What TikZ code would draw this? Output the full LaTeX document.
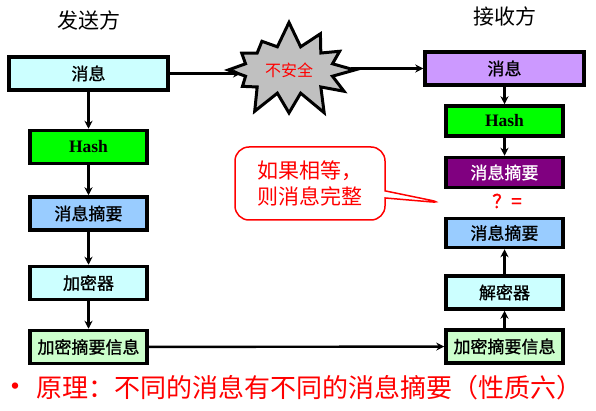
\documentclass[tikz,border=0pt]{standalone}
\usepackage{fontspec}
\setmainfont{Liberation Serif}
\newfontfamily\cjk{Noto Sans CJK SC}
\newfontfamily\cjkbold{Noto Sans CJK SC}[FakeBold=1.2]
\usetikzlibrary{shapes.symbols,shapes.callouts,arrows.meta}
\definecolor{msgcyan}{HTML}{CCFFFF}
\definecolor{hashgreen}{HTML}{00FF00}
\definecolor{digblue}{HTML}{99CCFF}
\definecolor{encgreen}{HTML}{CCFFCC}
\definecolor{recvlilac}{HTML}{CC99FF}
\definecolor{digpurple}{HTML}{800080}
\definecolor{stargray}{HTML}{C0C0C0}

\begin{document}
\begin{tikzpicture}[x=1pt,y=-1pt]
      \tikzstyle{every node}+=[inner sep=0pt]
      \tikzstyle{box}=[draw=black, line width=3.5pt, minimum width=117pt, minimum height=33pt, font=\cjkbold\fontsize{17}{17}\selectfont]
      \tikzstyle{title}=[font=\cjk\fontsize{21}{21}\selectfont]
      \tikzstyle{link}=[black, line width=2.4pt, -{Stealth[length=8pt,width=8pt]}]
      \useasboundingbox (0,0) rectangle (596,411);
      % sender side
      \node [title] (sendtitle) at (88.5,20) {发送方};
      \node [box, fill=msgcyan, minimum width=159pt] (smsg) at (88.5,73.5) {消息};
      \node [box, fill=hashgreen, font=\bfseries\fontsize{17.5}{17.5}\selectfont] (shash) at (88.5,147) {Hash};
      \node [box, fill=digblue] (sdig) at (88.5,213.5) {消息摘要};
      \node [box, fill=msgcyan] (senc) at (88.5,283) {加密器};
      \node [box, fill=encgreen] (sout) at (88.5,347) {加密摘要信息};
      % receiver side
      \node [title] (recvtitle) at (504.5,16) {接收方};
      \node [box, fill=recvlilac, minimum width=159pt] (rmsg) at (504.5,68.5) {消息};
      \node [box, fill=hashgreen, minimum height=30pt, font=\bfseries\fontsize{17.5}{17.5}\selectfont] (rhash) at (504.5,121) {Hash};
      \node [box, fill=digpurple, text=white, minimum height=30pt] (rdig) at (504.5,172.5) {消息摘要};
      \node [text=red, font=\cjkbold\fontsize{19}{19}\selectfont] (cmp) at (507,201) {？=};
      \node [box, fill=digblue, minimum height=29pt] (rcmp) at (504.5,233) {消息摘要};
      \node [box, fill=msgcyan] (rdec) at (504.5,292.5) {解密器};
      \node [box, fill=encgreen] (rin) at (504.5,346.5) {加密摘要信息};
      % channel
      \node [starburst, starburst points=12, starburst point height=26pt, random starburst=7,
             draw=black, fill=stargray, line width=3pt, minimum width=142pt, minimum height=100pt,
             text=red, font=\cjk\fontsize{16}{16}\selectfont] (net) at (289,70) {不安全};
      \coordinate (tip) at (444,203);
      \node [rectangle callout, callout absolute pointer={(tip)}, rounded corners=14pt, draw=red, line width=1.5pt,
             minimum width=150pt, minimum height=73pt, align=left, text=red,
             font=\cjk\fontsize{21}{26}\selectfont] (note) at (310,183.5) {如果相等，\\则消息完整};
      \node [anchor=west, text=red, font=\cjk\fontsize{26}{26}\selectfont] (rule) at (0,388) {\fontsize{30}{30}\selectfont•\hspace{6pt}\fontsize{26}{26}\selectfont 原理：不同的消息有不同的消息摘要（性质六）};
      % arrows
      \draw [link] (smsg) -- (shash);
      \draw [link] (shash) -- (sdig);
      \draw [link] (sdig) -- (senc);
      \draw [link] (senc) -- (sout);
      \draw [link] (smsg.east) -- (241,73.5);
      \draw [link] (351,68.5) -- (rmsg.west);
      \draw [link] (rmsg) -- (rhash);
      \draw [link] (rhash) -- (rdig);
      \draw [link] (sout) -- (rin);
      \draw [link] (rin) -- (rdec);
      \draw [link] (rdec) -- (rcmp);
\end{tikzpicture}
\end{document}
